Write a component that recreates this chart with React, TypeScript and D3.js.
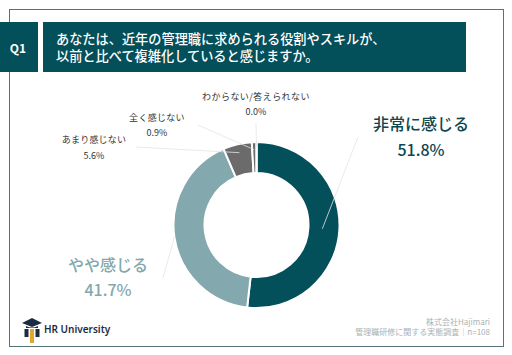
import React from "react";
import * as d3 from "d3";

const categories = ["非常に感じる", "やや感じる", "あまり感じない", "全く感じない", "わからない/答えられない"];
const values = [51.8, 41.7, 5.6, 0.9, 0.0];
const valueLabels = ["51.8%", "41.7%", "5.6%", "0.9%", "0.0%"];
const colors = ["#034f5a", "#83a8ae", "#6b6b6b", "#6b6b6b", "#6b6b6b"];
const labelColors = ["#0d4650", "#83a8ae", "#333333", "#333333", "#333333"];
const labelSizes = [16, 16, 9, 9, 9];
const labelSpacing = [0, 0, 0.2, 0.3, 0.45];
const labelX = [421, 108, 94, 157, 256];
const labelY = [130, 271, 143, 121, 100];
const lineGaps = [26, 25, 16, 15, 15];
const leaderStart: [number, number][] = [[358, 137], [163, 278], [136, 147], [198, 125], [256, 123]];
const leaderEnd = [0.45, 1.0, 0.72, 0.75, 0.85];
const titleLines = ["あなたは、近年の管理職に求められる役割やスキルが、", "以前と比べて複雑化していると感じますか。"];
const footerLines = ["株式会社Hajimari", "管理職研修に関する実態調査｜n=108"];

const JP = "'Noto Sans CJK JP','Noto Sans',sans-serif";

export default function App() {
  const cx = 256.5, cy = 225, outer = 83, inner = 52;
  const pie = d3.pie<number>().sort(null).value((d) => d)(values);
  const arc = d3.arc<d3.PieArcDatum<number>>().innerRadius(inner).outerRadius(outer);
  const line = d3.line();
  return (
    <svg width={512} height={355} style={{ position: "absolute", left: 0, top: 0, background: "#fff" }} fontFamily={JP}>
      <rect x={9.5} y={9.5} width={494} height={337} fill="#fff" stroke="#54737a" strokeWidth={1} />
      <rect x={0} y={22} width={38} height={50} fill="#034f5a" />
      <rect x={43} y={22} width={423} height={50} fill="#034f5a" />
      <text x={18} y={53} textAnchor="middle" fill="#fff" fontSize={12} fontWeight={700}>Q1</text>
      <text fill="#fff" fontSize={13.2} fontWeight={500}>
        {titleLines.map((t, i) => (
          <tspan key={t} x={56} y={44 + i * 17}>{t}</tspan>
        ))}
      </text>
      <g transform={`translate(${cx},${cy})`}>
        {pie.map((d, i) => (
          <path key={i} d={arc(d) ?? ""} fill={colors[i]} stroke="#fff" strokeWidth={2} />
        ))}
      </g>
      {pie.map((d, i) => {
        const mid = (d.startAngle + d.endAngle) / 2;
        const r = inner + (outer - inner) * leaderEnd[i];
        const end: [number, number] = [cx + Math.sin(mid) * r, cy - Math.cos(mid) * r];
        return (
          <path key={i} d={line([leaderStart[i], end]) ?? ""} stroke="#e2e5e5" strokeWidth={0.8} fill="none" />
        );
      })}
      {categories.map((c, i) => (
        <g key={c} textAnchor="middle" fill={labelColors[i]} fontSize={labelSizes[i]} fontWeight={i < 2 ? 500 : 400}>
          <text x={labelX[i]} y={labelY[i]} letterSpacing={labelSpacing[i]}>{c}</text>
          <text x={labelX[i]} y={labelY[i] + lineGaps[i]}>{valueLabels[i]}</text>
        </g>
      ))}
      <g transform="translate(21,318)">
        <path d="M11 0 L21 5 L11 9 L1 5 Z" fill="#1b2b44" />
        <path d="M5 8 Q11 11 17 8 L17 10 L5 10 Z" fill="#1b2b44" />
        <rect x={3.5} y={11} width={4} height={8} fill="#1b2b44" />
        <rect x={9} y={11} width={4} height={14} fill="#e0a82e" />
        <rect x={14.5} y={11} width={4} height={8} fill="#1b2b44" />
      </g>
      <text x={44} y={333} fill="#1b2b44" fontSize={10} fontWeight={600} fontFamily="'Noto Sans',sans-serif">HR University</text>
      {footerLines.map((t, i) => (
        <text key={t} x={490} y={325 + i * 10} textAnchor="end" fill="#aab2b4" fontSize={8}>{t}</text>
      ))}
    </svg>
  );
}
